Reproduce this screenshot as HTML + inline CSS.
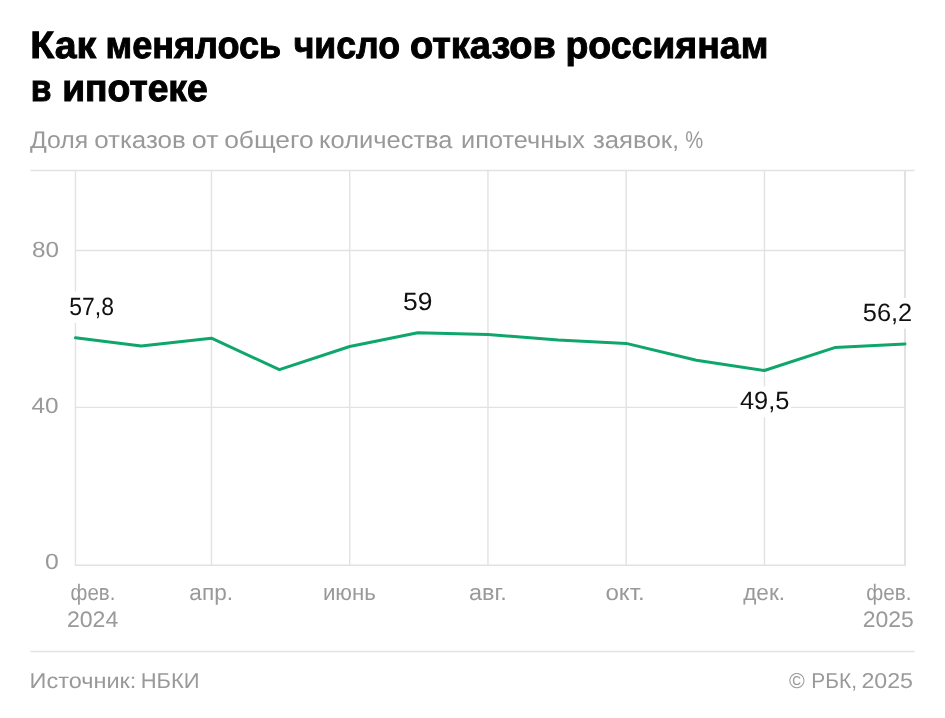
<!DOCTYPE html>
<html lang="ru"><head><meta charset="utf-8"><title>chart</title>
<style>html,body{margin:0;padding:0;background:#fff}body{width:945px;height:718px;overflow:hidden;font-family:"Liberation Sans",sans-serif}</style></head>
<body>
<svg width="945" height="718" viewBox="0 0 945 718" style="display:block;font-family:'Liberation Sans',sans-serif;will-change:transform;text-rendering:geometricPrecision">
<rect width="945" height="718" fill="#fff"/>
<g stroke="#e2e2e2" stroke-width="1.4" fill="none">
<line x1="30.5" x2="914.5" y1="170.5" y2="170.5"/>
<line x1="75.45" x2="75.45" y1="170.5" y2="565"/>
<line x1="211.44" x2="211.44" y1="170.5" y2="565"/>
<line x1="349.69" x2="349.69" y1="170.5" y2="565"/>
<line x1="487.94" x2="487.94" y1="170.5" y2="565"/>
<line x1="626.19" x2="626.19" y1="170.5" y2="565"/>
<line x1="764.44" x2="764.44" y1="170.5" y2="565"/>
<line x1="75.45" x2="904.96" y1="250.5" y2="250.5"/>
<line x1="75.45" x2="904.96" y1="407.4" y2="407.4"/>
<line x1="30.5" x2="914.5" y1="651.5" y2="651.5"/>
</g>
<line x1="904.96" x2="904.96" y1="170.5" y2="565" stroke="#e2e2e2" stroke-width="2"/>
<line x1="74.75" x2="905.96" y1="565.2" y2="565.2" stroke="#e2e2e2" stroke-width="1.5"/>
<rect x="67" y="291.6" width="49" height="31.3" fill="#fff"/>
<rect x="737.5" y="386.4" width="53.6" height="30.9" fill="#fff"/>
<rect x="861" y="298" width="53" height="30.6" fill="#fff"/>
<polyline points="75.5,337.8 141.2,345.9 211.4,338.2 279.4,369.6 349.7,346.5 417.7,332.7 487.9,334.5 558.2,340.1 626.2,343.4 696.4,360.3 764.4,370.5 834.7,347.6 905.0,344.0" fill="none" stroke="#0fa66c" stroke-width="3" stroke-linejoin="round" stroke-linecap="round"/>
<text x="30.35" y="58.1" font-size="38" font-weight="700" stroke="#000" stroke-width="1" fill="#000" textLength="65.86" lengthAdjust="spacingAndGlyphs">Как</text>
<text x="105.55" y="58.1" font-size="38" font-weight="700" stroke="#000" stroke-width="1" fill="#000" textLength="175.67" lengthAdjust="spacingAndGlyphs">менялось</text>
<text x="293.69" y="58.1" font-size="38" font-weight="700" stroke="#000" stroke-width="1" fill="#000" textLength="106.28" lengthAdjust="spacingAndGlyphs">число</text>
<text x="410.01" y="58.1" font-size="38" font-weight="700" stroke="#000" stroke-width="1" fill="#000" textLength="145.88" lengthAdjust="spacingAndGlyphs">отказов</text>
<text x="565.46" y="58.1" font-size="38" font-weight="700" stroke="#000" stroke-width="1" fill="#000" textLength="202.88" lengthAdjust="spacingAndGlyphs">россиянам</text>
<text x="30.69" y="100.8" font-size="38" font-weight="700" stroke="#000" stroke-width="1" fill="#000" textLength="20.74" lengthAdjust="spacingAndGlyphs">в</text>
<text x="62.17" y="100.8" font-size="38" font-weight="700" stroke="#000" stroke-width="1" fill="#000" textLength="145.56" lengthAdjust="spacingAndGlyphs">ипотеке</text>
<text x="30.00" y="147.5" font-size="24" fill="#999999" textLength="58.11" lengthAdjust="spacingAndGlyphs">Доля</text>
<text x="94.19" y="147.5" font-size="24" fill="#999999" textLength="91.62" lengthAdjust="spacingAndGlyphs">отказов</text>
<text x="191.86" y="147.5" font-size="24" fill="#999999" textLength="26.57" lengthAdjust="spacingAndGlyphs">от</text>
<text x="224.18" y="147.5" font-size="24" fill="#999999" textLength="89.59" lengthAdjust="spacingAndGlyphs">общего</text>
<text x="319.11" y="147.5" font-size="24" fill="#999999" textLength="133.43" lengthAdjust="spacingAndGlyphs">количества</text>
<text x="461.12" y="147.5" font-size="24" fill="#999999" textLength="123.88" lengthAdjust="spacingAndGlyphs">ипотечных</text>
<text x="592.90" y="147.5" font-size="24" fill="#999999" textLength="86.33" lengthAdjust="spacingAndGlyphs">заявок,</text>
<text x="685.37" y="147.5" font-size="24" fill="#999999" textLength="17.93" lengthAdjust="spacingAndGlyphs">%</text>
<text x="32.14" y="256.6" font-size="22" fill="#999999" textLength="26.96" lengthAdjust="spacingAndGlyphs">80</text>
<text x="31.52" y="412.9" font-size="22" fill="#999999" textLength="27.09" lengthAdjust="spacingAndGlyphs">40</text>
<text x="45.02" y="568.8" font-size="22" fill="#999999" textLength="13.79" lengthAdjust="spacingAndGlyphs">0</text>
<text x="69.18" y="315.4" font-size="25" fill="#111111" textLength="44.75" lengthAdjust="spacingAndGlyphs">57,8</text>
<text x="403.07" y="310.2" font-size="25" fill="#111111" textLength="29.40" lengthAdjust="spacingAndGlyphs">59</text>
<text x="739.90" y="409.2" font-size="25" fill="#111111" textLength="49.43" lengthAdjust="spacingAndGlyphs">49,5</text>
<text x="862.81" y="321.2" font-size="25" fill="#111111" textLength="49.42" lengthAdjust="spacingAndGlyphs">56,2</text>
<text x="70.56" y="600.0" font-size="22.5" fill="#999999" textLength="44.79" lengthAdjust="spacingAndGlyphs">фев.</text>
<text x="66.92" y="627.3" font-size="22.5" fill="#999999" textLength="51.36" lengthAdjust="spacingAndGlyphs">2024</text>
<text x="189.39" y="600.0" font-size="22.5" fill="#999999" textLength="43.65" lengthAdjust="spacingAndGlyphs">апр.</text>
<text x="322.91" y="600.0" font-size="22.5" fill="#999999" textLength="53.01" lengthAdjust="spacingAndGlyphs">июнь</text>
<text x="468.97" y="600.0" font-size="22.5" fill="#999999" textLength="37.75" lengthAdjust="spacingAndGlyphs">авг.</text>
<text x="605.45" y="600.0" font-size="22.5" fill="#999999" textLength="39.33" lengthAdjust="spacingAndGlyphs">окт.</text>
<text x="743.20" y="600.0" font-size="22.5" fill="#999999" textLength="41.84" lengthAdjust="spacingAndGlyphs">дек.</text>
<text x="866.35" y="600.0" font-size="22.5" fill="#999999" textLength="45.21" lengthAdjust="spacingAndGlyphs">фев.</text>
<text x="862.72" y="627.3" font-size="22.5" fill="#999999" textLength="51.11" lengthAdjust="spacingAndGlyphs">2025</text>
<text x="29.56" y="688.3" font-size="21.5" fill="#999999" textLength="106.86" lengthAdjust="spacingAndGlyphs">Источник:</text>
<text x="140.68" y="688.3" font-size="21.5" fill="#999999" textLength="58.83" lengthAdjust="spacingAndGlyphs">НБКИ</text>
<text x="788.90" y="688.3" font-size="21.5" fill="#999999" textLength="15.75" lengthAdjust="spacingAndGlyphs">©</text>
<text x="811.37" y="688.3" font-size="21.5" fill="#999999" textLength="45.59" lengthAdjust="spacingAndGlyphs">РБК,</text>
<text x="861.41" y="688.3" font-size="21.5" fill="#999999" textLength="51.63" lengthAdjust="spacingAndGlyphs">2025</text>
</svg>
</body></html>
